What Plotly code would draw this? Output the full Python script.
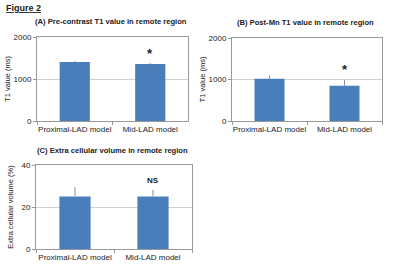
import plotly.graph_objects as go

categories = ["Proximal-LAD model", "Mid-LAD model"]

pre_t1 = [1405, 1355]
pre_t1_err = [20, 25]

post_t1 = [1020, 850]
post_t1_err = [80, 140]

ecv = [25.0, 25.0]
ecv_err = [4.5, 3.2]

panel_titles = [
    "(A) Pre-contrast T1 value in remote region",
    "(B) Post-Mn T1 value in remote region",
    "(C) Extra cellular volume in remote region",
]
y_titles = ["T1 value (ms)", "T1 value (ms)", "Extra cellular volume (%)"]
marks = ["*", "*", "NS"]

W, H = 400, 265
BAR = "#4A7EBB"
FONT = "Liberation Sans, Arial, sans-serif"

def px(x):
    return x / W

def py(y):
    return 1 - y / H

fig = go.Figure()

series = [(pre_t1, pre_t1_err), (post_t1, post_t1_err), (ecv, ecv_err)]
for i, (vals, errs) in enumerate(series):
    sfx = "" if i == 0 else str(i + 1)
    fig.add_trace(go.Bar(
        x=categories, y=vals,
        marker=dict(color=BAR, line=dict(width=0)),
        width=0.4,
        error_y=dict(type="data", array=errs, arrayminus=[0, 0], symmetric=False,
                     color="#7f8fa6", thickness=1, width=0),
        xaxis="x" + sfx, yaxis="y" + sfx, showlegend=False,
    ))

# domains in pixels: (left, right, top, bottom)
boxes = [(37, 188, 37, 121), (232, 382, 38, 121), (36, 192, 165, 249)]
ranges = [(0, 2000, 1000), (0, 2000, 1000), (0, 40, 20)]
standoffs = [1, 1, 6]

layout = dict(
    width=W, height=H, margin=dict(l=0, r=0, t=0, b=0),
    paper_bgcolor="white", plot_bgcolor="white",
    font=dict(family=FONT, size=8, color="#222"),
    bargap=0.6,
)
annotations = []
for i, ((l, r, t, b), (lo, hi, dt)) in enumerate(zip(boxes, ranges)):
    sfx = "" if i == 0 else str(i + 1)
    layout["xaxis" + sfx] = dict(
        domain=[px(l), px(r)], anchor="y" + sfx, type="category",
        showline=True, linecolor="#999", linewidth=1, mirror=True,
        ticks="outside", ticklen=3, tickcolor="#999", tickson="boundaries",
        tickangle=0, automargin=False,
        tickfont=dict(size=8, color="#222"), showgrid=False,
    )
    layout["yaxis" + sfx] = dict(
        domain=[py(b), py(t)], anchor="x" + sfx, range=[lo, hi], dtick=dt,
        showline=True, linecolor="#999", linewidth=1, mirror=True,
        ticks="outside", ticklen=3, tickcolor="#999", automargin=False,
        showgrid=True, gridcolor="#d0d0d0", gridwidth=1, zeroline=False,
        tickfont=dict(size=8, color="#222"),
        title=dict(text=y_titles[i], font=dict(size=7.5, color="#222"),
                   standoff=standoffs[i]),
    )
    annotations.append(dict(
        text="<b>" + panel_titles[i] + "</b>", xref="paper", yref="paper",
        x=px((l + r) / 2 - 2), y=py(t - 15), xanchor="center", yanchor="middle",
        showarrow=False, font=dict(size=7.6, color="#222"),
    ))
    # significance mark above the Mid-LAD bar
    vals, errs = series[i]
    annotations.append(dict(
        text="<b>" + marks[i] + "</b>", xref="x" + sfx, yref="y" + sfx,
        x=categories[1], y=vals[1] + errs[1], yshift=10 if marks[i] == "*" else 9,
        xanchor="center", yanchor="middle", showarrow=False,
        font=dict(size=13 if marks[i] == "*" else 8, color="#222"),
    ))

annotations.append(dict(
    text="<b><u>Figure 2</u></b>", xref="paper", yref="paper",
    x=px(4), y=py(8), xanchor="left", yanchor="middle", showarrow=False,
    font=dict(size=9, color="#222"),
))
layout["annotations"] = annotations
fig.update_layout(**layout)

fig.write_html("out.html", config={"displayModeBar": False},
               post_script="document.body.style.margin='0';document.body.style.padding='0';")
